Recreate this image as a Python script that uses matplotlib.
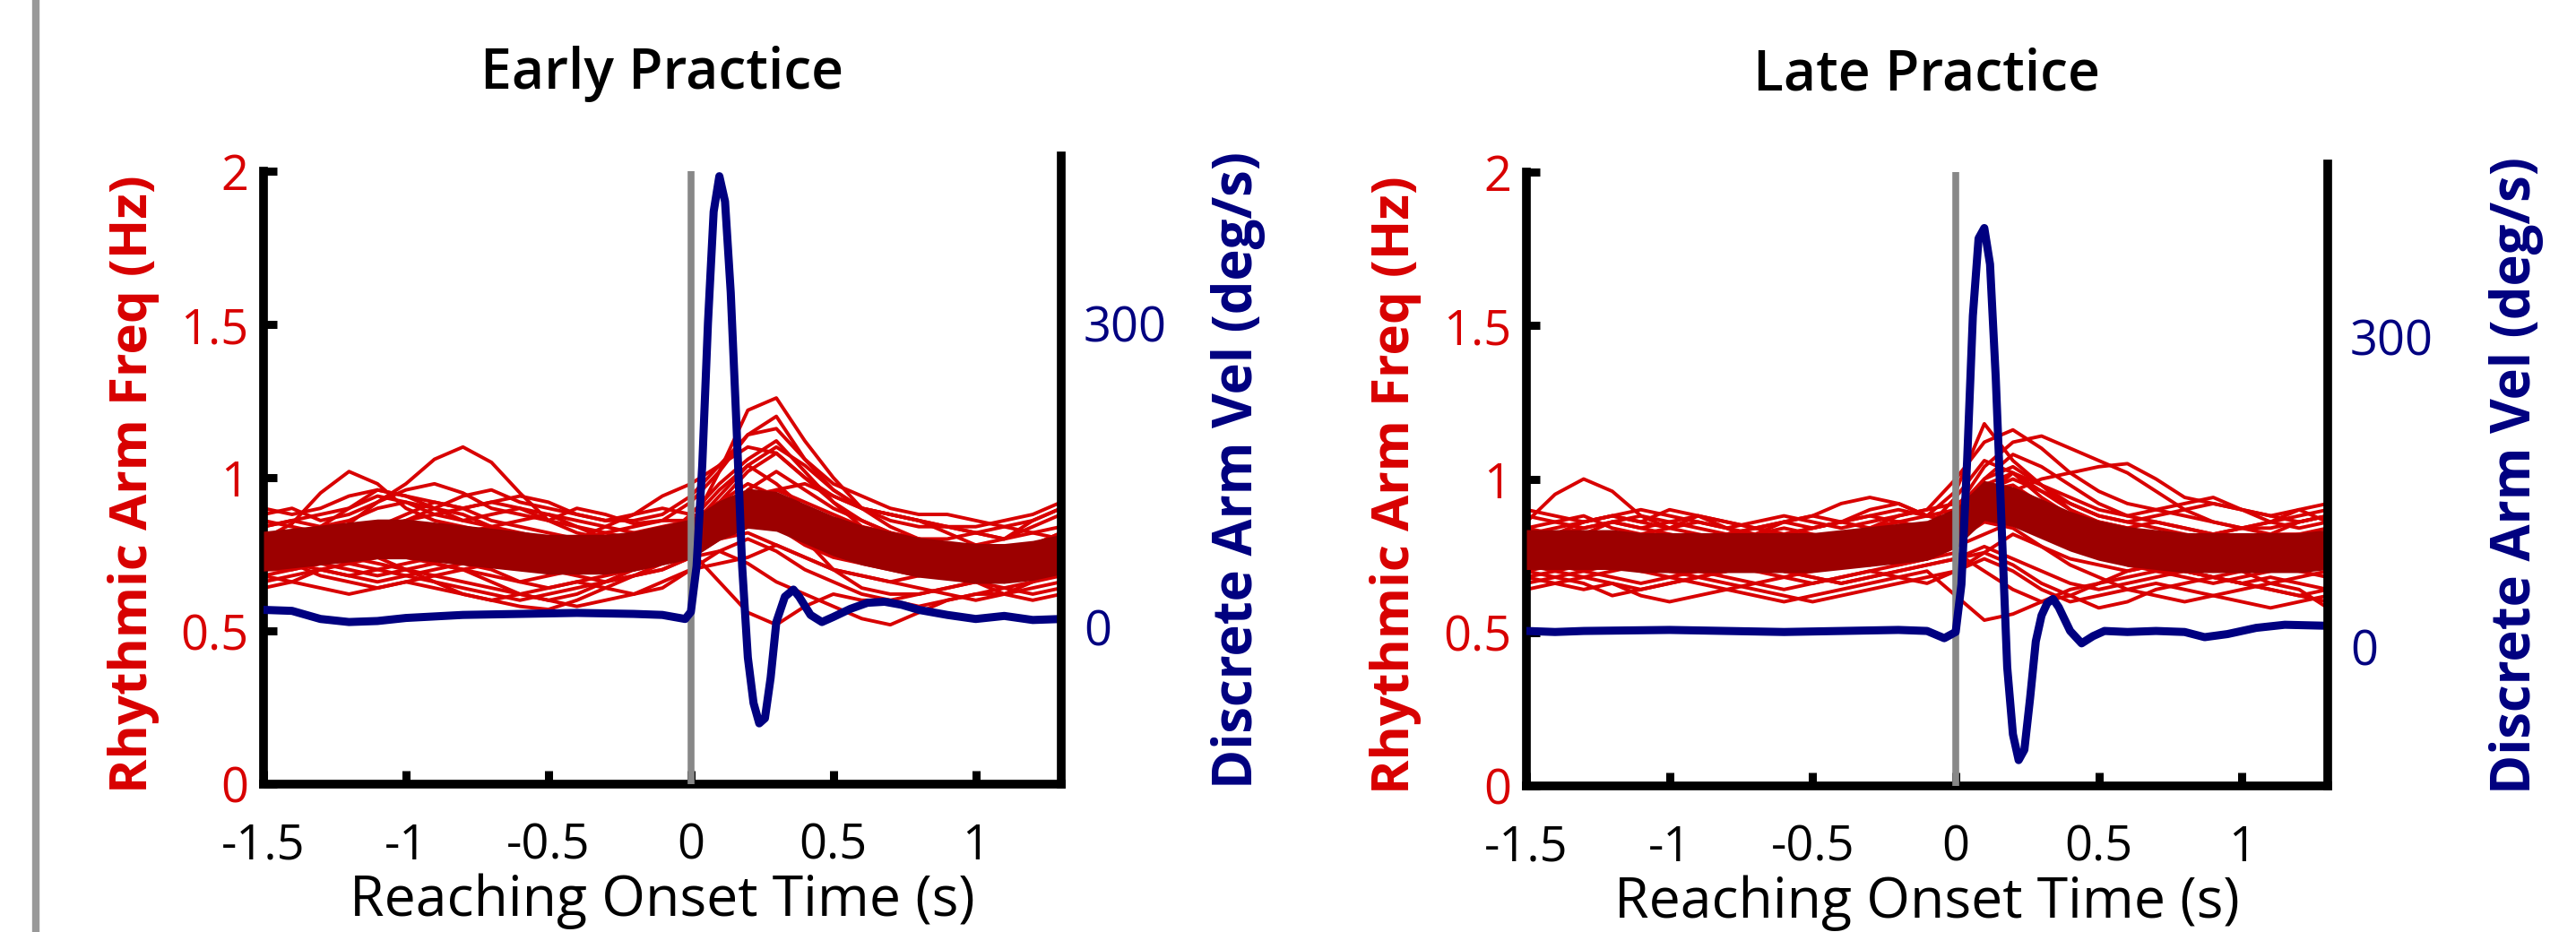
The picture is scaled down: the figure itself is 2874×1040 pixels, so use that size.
import numpy as np
import matplotlib
matplotlib.use('Agg')
import matplotlib.pyplot as plt
from matplotlib.lines import Line2D

plt.rcParams['font.family'] = ['Open Sans', 'DejaVu Sans']
plt.rcParams['axes.unicode_minus'] = False

# time grid of the rhythmic-frequency traces (s)
t_freq = [-1.5, -1.4, -1.3, -1.2, -1.1, -1.0, -0.9, -0.8, -0.7, -0.6, -0.5, -0.4, -0.3, -0.2, -0.1,
          0.0, 0.1, 0.2, 0.3, 0.4, 0.5, 0.6, 0.7, 0.8, 0.9, 1.0, 1.1, 1.2, 1.3]

# single trials, early practice (Hz)
early_trials = [
    [0.80, 0.85, 0.95, 1.02, 0.98, 0.90, 0.86, 0.84, 0.82, 0.80, 0.78, 0.77, 0.76, 0.75, 0.78, 0.86, 0.96, 1.04, 0.98, 0.90, 0.84, 0.80, 0.78, 0.76, 0.74, 0.72, 0.74, 0.78, 0.82],
    [0.72, 0.75, 0.78, 0.85, 0.92, 0.98, 1.06, 1.10, 1.05, 0.95, 0.86, 0.82, 0.80, 0.78, 0.76, 0.84, 1.02, 1.22, 1.26, 1.12, 1.00, 0.90, 0.84, 0.80, 0.78, 0.76, 0.74, 0.76, 0.80],
    [0.88, 0.90, 0.86, 0.88, 0.92, 0.96, 0.98, 0.95, 0.90, 0.88, 0.86, 0.90, 0.88, 0.85, 0.86, 0.92, 1.02, 1.14, 1.20, 1.06, 0.96, 0.90, 0.86, 0.84, 0.84, 0.82, 0.80, 0.84, 0.88],
    [0.68, 0.66, 0.70, 0.72, 0.74, 0.70, 0.66, 0.62, 0.60, 0.58, 0.57, 0.60, 0.64, 0.68, 0.72, 0.76, 0.66, 0.56, 0.52, 0.58, 0.62, 0.60, 0.60, 0.62, 0.64, 0.66, 0.68, 0.70, 0.72],
    [0.66, 0.68, 0.70, 0.68, 0.66, 0.68, 0.70, 0.72, 0.70, 0.66, 0.64, 0.66, 0.68, 0.70, 0.72, 0.74, 0.76, 0.72, 0.66, 0.62, 0.58, 0.54, 0.52, 0.56, 0.60, 0.62, 0.62, 0.64, 0.66],
    [0.84, 0.86, 0.88, 0.90, 0.94, 0.92, 0.90, 0.94, 0.96, 0.92, 0.90, 0.88, 0.86, 0.86, 0.88, 0.94, 1.04, 1.14, 1.16, 1.06, 0.98, 0.94, 0.90, 0.88, 0.88, 0.86, 0.84, 0.86, 0.90],
    [0.74, 0.76, 0.74, 0.72, 0.70, 0.68, 0.66, 0.64, 0.62, 0.60, 0.62, 0.64, 0.66, 0.68, 0.70, 0.74, 0.84, 0.96, 1.02, 0.96, 0.90, 0.86, 0.82, 0.80, 0.78, 0.78, 0.76, 0.76, 0.78],
    [0.70, 0.72, 0.68, 0.66, 0.64, 0.66, 0.68, 0.70, 0.66, 0.62, 0.60, 0.62, 0.66, 0.70, 0.74, 0.78, 0.84, 0.90, 0.88, 0.80, 0.70, 0.64, 0.62, 0.62, 0.64, 0.66, 0.62, 0.60, 0.62],
    [0.90, 0.88, 0.90, 0.94, 0.96, 0.94, 0.92, 0.90, 0.92, 0.94, 0.92, 0.88, 0.86, 0.88, 0.94, 0.98, 1.04, 1.10, 1.08, 1.00, 0.94, 0.90, 0.88, 0.86, 0.84, 0.82, 0.80, 0.86, 0.90],
    [0.76, 0.78, 0.80, 0.82, 0.84, 0.86, 0.88, 0.90, 0.92, 0.90, 0.88, 0.86, 0.84, 0.82, 0.80, 0.84, 0.94, 1.04, 1.10, 1.04, 0.96, 0.90, 0.88, 0.86, 0.84, 0.84, 0.86, 0.88, 0.92],
    [0.64, 0.66, 0.64, 0.62, 0.64, 0.66, 0.64, 0.62, 0.60, 0.62, 0.64, 0.66, 0.64, 0.62, 0.64, 0.70, 0.76, 0.80, 0.76, 0.70, 0.66, 0.62, 0.60, 0.58, 0.60, 0.62, 0.64, 0.62, 0.64],
    [0.82, 0.80, 0.78, 0.80, 0.84, 0.88, 0.92, 0.90, 0.86, 0.84, 0.82, 0.80, 0.82, 0.84, 0.86, 0.86, 0.92, 1.02, 1.08, 1.00, 0.92, 0.86, 0.82, 0.78, 0.74, 0.72, 0.70, 0.68, 0.72],
    [0.78, 0.80, 0.84, 0.90, 0.96, 0.94, 0.90, 0.86, 0.84, 0.86, 0.88, 0.84, 0.80, 0.78, 0.80, 0.88, 0.98, 1.06, 1.12, 1.02, 0.92, 0.84, 0.80, 0.76, 0.74, 0.72, 0.70, 0.74, 0.78],
    [0.70, 0.70, 0.72, 0.74, 0.72, 0.70, 0.68, 0.66, 0.64, 0.62, 0.60, 0.58, 0.60, 0.62, 0.66, 0.70, 0.72, 0.74, 0.78, 0.74, 0.70, 0.68, 0.66, 0.64, 0.62, 0.60, 0.62, 0.66, 0.70],
    [0.86, 0.84, 0.82, 0.80, 0.82, 0.86, 0.90, 0.88, 0.84, 0.80, 0.78, 0.80, 0.84, 0.88, 0.90, 0.88, 0.86, 0.90, 0.96, 0.98, 0.94, 0.90, 0.88, 0.86, 0.82, 0.78, 0.76, 0.78, 0.82],
    [0.74, 0.72, 0.70, 0.68, 0.70, 0.72, 0.74, 0.76, 0.74, 0.72, 0.70, 0.68, 0.66, 0.68, 0.70, 0.74, 0.80, 0.86, 0.92, 0.90, 0.84, 0.78, 0.74, 0.70, 0.68, 0.66, 0.64, 0.66, 0.68],
    [0.80, 0.82, 0.84, 0.82, 0.80, 0.78, 0.80, 0.82, 0.84, 0.82, 0.80, 0.78, 0.80, 0.82, 0.84, 0.86, 0.92, 0.98, 0.94, 0.88, 0.84, 0.82, 0.80, 0.78, 0.76, 0.78, 0.80, 0.82, 0.84],
    [0.72, 0.74, 0.76, 0.78, 0.76, 0.74, 0.72, 0.70, 0.72, 0.74, 0.72, 0.70, 0.72, 0.74, 0.76, 0.78, 0.84, 0.88, 0.84, 0.78, 0.74, 0.72, 0.70, 0.68, 0.70, 0.72, 0.70, 0.68, 0.70],
    [0.84, 0.86, 0.84, 0.86, 0.90, 0.92, 0.88, 0.86, 0.88, 0.90, 0.86, 0.84, 0.82, 0.80, 0.82, 0.84, 0.88, 0.94, 0.96, 0.92, 0.88, 0.84, 0.82, 0.80, 0.80, 0.82, 0.84, 0.82, 0.80],
    [0.68, 0.70, 0.72, 0.70, 0.68, 0.70, 0.72, 0.70, 0.68, 0.66, 0.68, 0.70, 0.72, 0.70, 0.72, 0.76, 0.80, 0.82, 0.78, 0.74, 0.70, 0.68, 0.66, 0.68, 0.70, 0.68, 0.66, 0.68, 0.70],
]
early_mean = [0.76, 0.77, 0.78, 0.79, 0.80, 0.80, 0.79, 0.78, 0.77, 0.76, 0.75, 0.75, 0.75, 0.76, 0.78,
              0.80, 0.86, 0.90, 0.89, 0.85, 0.81, 0.78, 0.76, 0.74, 0.73, 0.72, 0.72, 0.73, 0.75]

# single trials, late practice (Hz)
late_trials = [
    [0.86, 0.95, 1.00, 0.96, 0.88, 0.84, 0.86, 0.84, 0.80, 0.78, 0.76, 0.78, 0.80, 0.82, 0.84, 0.90, 1.04, 1.12, 1.14, 1.10, 1.06, 1.02, 0.96, 0.90, 0.86, 0.84, 0.84, 0.86, 0.88],
    [0.80, 0.82, 0.86, 0.88, 0.86, 0.90, 0.88, 0.84, 0.82, 0.86, 0.84, 0.86, 0.90, 0.92, 0.88, 0.96, 1.18, 1.06, 0.98, 0.92, 0.88, 0.86, 0.84, 0.82, 0.80, 0.80, 0.80, 0.82, 0.84],
    [0.68, 0.66, 0.64, 0.66, 0.62, 0.60, 0.62, 0.64, 0.62, 0.60, 0.62, 0.64, 0.66, 0.68, 0.70, 0.62, 0.54, 0.56, 0.60, 0.64, 0.66, 0.68, 0.70, 0.70, 0.68, 0.66, 0.64, 0.62, 0.60],
    [0.72, 0.74, 0.76, 0.74, 0.72, 0.74, 0.76, 0.78, 0.76, 0.74, 0.76, 0.80, 0.84, 0.88, 0.90, 1.00, 1.12, 1.16, 1.10, 1.02, 0.96, 0.92, 0.90, 0.88, 0.86, 0.84, 0.82, 0.82, 0.80],
    [0.84, 0.86, 0.88, 0.84, 0.82, 0.84, 0.88, 0.86, 0.84, 0.82, 0.84, 0.86, 0.88, 0.90, 0.88, 0.86, 0.90, 0.96, 1.00, 1.02, 1.04, 1.05, 1.00, 0.94, 0.92, 0.90, 0.88, 0.86, 0.88],
    [0.66, 0.68, 0.66, 0.62, 0.64, 0.66, 0.68, 0.66, 0.64, 0.62, 0.60, 0.62, 0.64, 0.66, 0.68, 0.70, 0.74, 0.70, 0.64, 0.60, 0.62, 0.64, 0.66, 0.64, 0.62, 0.60, 0.58, 0.60, 0.62],
    [0.78, 0.80, 0.82, 0.86, 0.84, 0.82, 0.80, 0.82, 0.84, 0.86, 0.88, 0.92, 0.94, 0.92, 0.88, 0.86, 0.94, 1.02, 0.98, 0.90, 0.84, 0.80, 0.78, 0.76, 0.78, 0.80, 0.82, 0.86, 0.88],
    [0.70, 0.68, 0.70, 0.72, 0.70, 0.68, 0.66, 0.64, 0.66, 0.68, 0.70, 0.72, 0.74, 0.72, 0.74, 0.76, 0.70, 0.64, 0.60, 0.62, 0.66, 0.70, 0.72, 0.70, 0.68, 0.66, 0.64, 0.62, 0.64],
    [0.88, 0.86, 0.84, 0.86, 0.88, 0.86, 0.84, 0.82, 0.80, 0.82, 0.84, 0.86, 0.88, 0.86, 0.84, 0.94, 1.06, 1.02, 0.96, 0.92, 0.88, 0.86, 0.88, 0.90, 0.92, 0.90, 0.86, 0.88, 0.90],
    [0.74, 0.72, 0.70, 0.68, 0.66, 0.68, 0.70, 0.72, 0.70, 0.68, 0.66, 0.68, 0.70, 0.72, 0.74, 0.78, 0.82, 0.86, 0.84, 0.80, 0.76, 0.72, 0.70, 0.68, 0.66, 0.68, 0.70, 0.72, 0.74],
    [0.82, 0.84, 0.86, 0.88, 0.90, 0.88, 0.86, 0.84, 0.86, 0.88, 0.86, 0.84, 0.86, 0.88, 0.90, 0.92, 0.96, 1.00, 0.96, 0.90, 0.86, 0.84, 0.82, 0.80, 0.82, 0.84, 0.86, 0.90, 0.86],
    [0.64, 0.66, 0.68, 0.66, 0.64, 0.66, 0.68, 0.70, 0.72, 0.70, 0.68, 0.66, 0.68, 0.70, 0.72, 0.74, 0.76, 0.72, 0.66, 0.62, 0.58, 0.60, 0.64, 0.66, 0.68, 0.70, 0.66, 0.64, 0.58],
    [0.76, 0.78, 0.80, 0.78, 0.76, 0.74, 0.76, 0.78, 0.80, 0.78, 0.76, 0.78, 0.80, 0.82, 0.80, 0.88, 1.00, 1.08, 1.04, 0.98, 0.92, 0.88, 0.86, 0.84, 0.82, 0.80, 0.80, 0.80, 0.82],
    [0.70, 0.72, 0.74, 0.76, 0.74, 0.72, 0.70, 0.68, 0.66, 0.64, 0.66, 0.68, 0.70, 0.68, 0.66, 0.70, 0.76, 0.82, 0.78, 0.72, 0.68, 0.64, 0.62, 0.60, 0.62, 0.64, 0.66, 0.68, 0.70],
    [0.90, 0.88, 0.86, 0.88, 0.86, 0.84, 0.82, 0.80, 0.82, 0.84, 0.82, 0.80, 0.78, 0.80, 0.82, 0.90, 1.00, 1.04, 0.98, 0.94, 0.90, 0.88, 0.90, 0.92, 0.94, 0.90, 0.88, 0.90, 0.92],
    [0.74, 0.76, 0.78, 0.80, 0.78, 0.76, 0.74, 0.72, 0.74, 0.76, 0.78, 0.76, 0.74, 0.76, 0.78, 0.82, 0.88, 0.94, 0.90, 0.84, 0.78, 0.74, 0.72, 0.70, 0.72, 0.74, 0.76, 0.78, 0.76],
    [0.80, 0.78, 0.80, 0.82, 0.80, 0.78, 0.80, 0.82, 0.84, 0.82, 0.80, 0.82, 0.84, 0.86, 0.84, 0.88, 0.96, 0.98, 0.92, 0.86, 0.82, 0.80, 0.78, 0.80, 0.82, 0.80, 0.78, 0.80, 0.82],
    [0.72, 0.70, 0.72, 0.74, 0.72, 0.70, 0.72, 0.74, 0.72, 0.70, 0.72, 0.74, 0.72, 0.74, 0.76, 0.80, 0.86, 0.84, 0.78, 0.74, 0.72, 0.70, 0.72, 0.74, 0.72, 0.70, 0.72, 0.70, 0.68],
    [0.84, 0.82, 0.84, 0.86, 0.84, 0.86, 0.88, 0.86, 0.84, 0.86, 0.88, 0.86, 0.84, 0.86, 0.88, 0.90, 0.98, 1.02, 0.94, 0.88, 0.86, 0.84, 0.86, 0.84, 0.82, 0.84, 0.86, 0.84, 0.86],
    [0.68, 0.70, 0.68, 0.70, 0.72, 0.70, 0.68, 0.70, 0.72, 0.70, 0.68, 0.66, 0.68, 0.70, 0.72, 0.74, 0.78, 0.74, 0.70, 0.66, 0.64, 0.66, 0.68, 0.70, 0.68, 0.66, 0.68, 0.66, 0.64],
]
late_mean = [0.77, 0.77, 0.77, 0.77, 0.76, 0.76, 0.76, 0.76, 0.76, 0.76, 0.76, 0.77, 0.78, 0.79, 0.80,
             0.84, 0.93, 0.91, 0.87, 0.83, 0.80, 0.78, 0.77, 0.76, 0.76, 0.76, 0.76, 0.76, 0.77]

# discrete arm velocity (deg/s)
t_vel_early = [-1.5, -1.4, -1.3, -1.2, -1.1, -1.0, -0.8, -0.6, -0.4, -0.2, -0.1, -0.02, 0.0, 0.02, 0.04,
               0.06, 0.08, 0.10, 0.12, 0.14, 0.16, 0.18, 0.20, 0.22, 0.24, 0.26, 0.28, 0.30, 0.33, 0.36,
               0.38, 0.42, 0.46, 0.50, 0.56, 0.62, 0.68, 0.74, 0.80, 0.90, 1.00, 1.10, 1.20, 1.30]
vel_early = [17, 16, 8, 5, 6, 9, 12, 13, 14, 13, 12, 8, 15, 60, 160,
             300, 410, 445, 420, 330, 200, 60, -30, -75, -95, -90, -50, 5, 30, 37,
             30, 12, 5, 10, 18, 24, 25, 22, 17, 12, 8, 11, 7, 8]

t_vel_late = [-1.5, -1.4, -1.3, -1.0, -0.8, -0.6, -0.4, -0.2, -0.1, -0.04, 0.0, 0.02, 0.04, 0.06,
              0.08, 0.10, 0.12, 0.14, 0.16, 0.18, 0.20, 0.22, 0.24, 0.26, 0.28, 0.30, 0.32, 0.34,
              0.36, 0.40, 0.44, 0.48, 0.52, 0.60, 0.70, 0.80, 0.87, 0.95, 1.05, 1.15, 1.30]
vel_late = [15, 14, 15, 16, 15, 14, 15, 16, 15, 8, 14, 60, 180, 320,
            395, 405, 370, 260, 120, -20, -85, -110, -100, -50, 5, 30, 42, 46,
            38, 15, 3, 10, 15, 14, 15, 14, 9, 12, 18, 21, 20]

x_ticks = [-1.5, -1, -0.5, 0, 0.5, 1]
x_ticklabels = ['-1.5', '-1', '-0.5', '0', '0.5', '1']
freq_ticks = [0, 0.5, 1, 1.5, 2]
freq_ticklabels = ['0', '0.5', '1', '1.5', '2']
vel_ticks = [0, 300]

RED = '#d80000'
DARKRED = '#9c0000'
NAVY = '#000080'
W, H = 2874, 1040


def px_rect(l, t, r, b):
    return [l / W, 1 - b / H, (r - l) / W, (b - t) / H]


def draw_panel(fig, rect_f, rect_v, title, trials, mean, tv, vel, vlim, lab_x):
    ax = fig.add_axes(px_rect(*rect_f))
    for tr in trials:
        ax.plot(t_freq, tr, color=RED, lw=2.8, zorder=2)
    m = np.array(mean)
    ax.fill_between(t_freq, m - 0.065, m + 0.065, color=DARKRED, lw=0, zorder=3)
    ax.plot([0, 0], [0, 2], color='#888888', lw=5.5, zorder=4, solid_capstyle='butt')
    ax.set_xlim(-1.5, 1.3)
    ax.set_ylim(0, 2)
    ax.set_xticks(x_ticks)
    ax.set_xticklabels(x_ticklabels)
    ax.set_yticks(freq_ticks)
    ax.set_yticklabels(freq_ticklabels)
    for s in ['top', 'right']:
        ax.spines[s].set_visible(False)
    for s in ['left', 'bottom']:
        ax.spines[s].set_linewidth(7)
    ax.tick_params(direction='in', length=11, width=6.5, labelsize=39)
    ax.tick_params(axis='x', pad=30)
    ax.tick_params(axis='y', pad=12, labelcolor=RED)
    ax.set_xlabel('Reaching Onset Time (s)', fontsize=45, labelpad=2)
    ax.set_ylabel('Rhythmic Arm Freq (Hz)', fontsize=42, fontweight='bold', color=RED)
    ax.yaxis.set_label_coords(lab_x[0], 0.49)
    ax.set_title(title, fontsize=45, fontweight='semibold', pad=66)

    # velocity on its own axis, right side
    ax2 = fig.add_axes(px_rect(*rect_v))
    ax2.patch.set_visible(False)
    ax2.plot(tv, vel, color=NAVY, lw=6.5, solid_joinstyle='round')
    ax2.set_xlim(-1.5, 1.3)
    ax2.set_ylim(*vlim)
    ax2.set_xticks([])
    ax2.yaxis.tick_right()
    ax2.yaxis.set_label_position('right')
    ax2.set_yticks(vel_ticks)
    ax2.set_yticklabels([str(v) for v in vel_ticks])
    for s in ['top', 'left', 'bottom']:
        ax2.spines[s].set_visible(False)
    ax2.spines['right'].set_linewidth(7)
    ax2.tick_params(axis='y', length=0, pad=18, labelsize=39, labelcolor=NAVY)
    ax2.set_ylabel('Discrete Arm Vel (deg/s)', fontsize=43, fontweight='bold', color=NAVY)
    ax2.yaxis.set_label_coords(lab_x[1], 0.5)
    return ax, ax2


def main():
    fig = plt.figure(figsize=(W / 100, H / 100), dpi=100)
    draw_panel(fig, (294, 191, 1184, 875), (294, 174, 1184, 875), 'Early Practice',
               early_trials, early_mean, t_vel_early, vel_early, (-155, 465), (-0.130, 1.188))
    draw_panel(fig, (1703, 192, 2597, 877), (1703, 183, 2597, 877), 'Late Practice',
               late_trials, late_mean, t_vel_late, vel_late, (-135, 467), (-0.131, 1.201))

    # grey separator at the left edge
    fig.add_artist(Line2D([40 / W, 40 / W], [0, 1], color='#999999', lw=6))

    fig.savefig('out.png', dpi=100)


if __name__ == '__main__':
    main()
